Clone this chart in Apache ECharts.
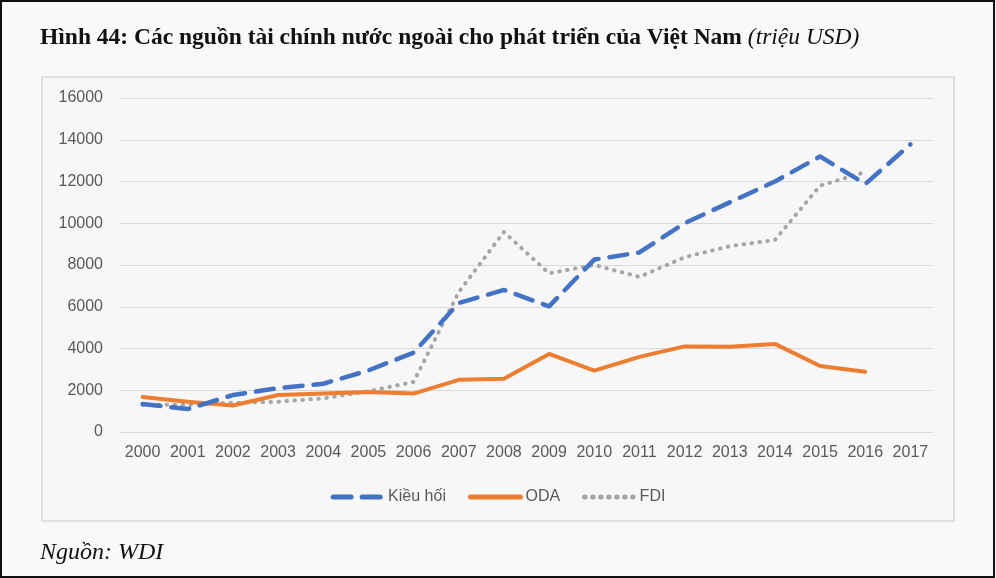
<!DOCTYPE html>
<html>
<head>
<meta charset="utf-8">
<script src="https://cdn.jsdelivr.net/npm/echarts@6/dist/echarts.min.js"></script>
<style>
html,body{margin:0;padding:0;background:#f9f9f9;}
#c{width:996px;height:578px;}
</style>
</head>
<body>
<div id="c"></div>
<script>
var years = ['2000','2001','2002','2003','2004','2005','2006','2007','2008','2009','2010','2011','2012','2013','2014','2015','2016','2017'];
var kieuHoi = [1340, 1100, 1770, 2100, 2310, 2950, 3800, 6180, 6805, 6020, 8260, 8600, 10000, 11000, 12000, 13200, 11880, 13781];
var oda = [1680, 1450, 1270, 1770, 1850, 1920, 1840, 2500, 2550, 3740, 2940, 3600, 4100, 4080, 4220, 3160, 2890, null];
var fdi = [1300, 1300, 1400, 1450, 1610, 1950, 2400, 6700, 9580, 7600, 8000, 7430, 8370, 8900, 9200, 11800, 12450, null];
var seriesNames = ['Kiều hối', 'ODA', 'FDI'];
var yTicks = {min: 0, max: 16000, interval: 2000};

var chart = echarts.init(document.getElementById('c'), null, {renderer: 'canvas'});
var axisFont = '"Liberation Sans", Arial, sans-serif';
var serif = '"Liberation Serif", "Times New Roman", serif';
chart.setOption({
  backgroundColor: '#f9f9f9',
  animation: false,
  title: {
    left: 40, top: 26, padding: 0,
    text: '{b|Hình 44: Các nguồn tài chính nước ngoài cho phát triển của Việt Nam }{i|(triệu USD)}',
    textStyle: {
      rich: {
        b: {fontFamily: serif, fontWeight: 'bold', fontSize: 23.5, color: '#111'},
        i: {fontFamily: serif, fontStyle: 'italic', fontWeight: 'normal', fontSize: 23.5, color: '#111'}
      }
    }
  },
  graphic: [
    {type: 'rect', z: -10, shape: {x: 42, y: 77, width: 912, height: 444},
     style: {fill: '#f7f7f7', stroke: '#d9d9d9', lineWidth: 1.5}},
    {type: 'rect', z: 100, silent: true, shape: {x: 1, y: 1, width: 993, height: 576},
     style: {fill: null, stroke: '#111', lineWidth: 2}},
    {type: 'text', left: 40, top: 541,
     style: {text: 'Nguồn: WDI', font: 'italic 24px "Liberation Serif", "Times New Roman", serif', fill: '#111'}}
  ],
  legend: {
    data: seriesNames,
    left: 'center', top: 484,
    itemWidth: 50, itemHeight: 14, itemGap: 22,
    itemStyle: {opacity: 0},
    lineStyle: {width: 5, cap: 'round'},
    textStyle: {fontFamily: axisFont, fontSize: 16, color: '#595959'}
  },
  grid: {left: 120, right: 63, top: 98, bottom: 146, containLabel: false},
  xAxis: {
    type: 'category', data: years, boundaryGap: true,
    axisLine: {show: false}, axisTick: {show: false},
    axisLabel: {fontFamily: axisFont, fontSize: 16, color: '#595959', margin: 13, interval: 0}
  },
  yAxis: {
    type: 'value', min: yTicks.min, max: yTicks.max, interval: yTicks.interval,
    axisLine: {show: false}, axisTick: {show: false},
    axisLabel: {fontFamily: axisFont, fontSize: 16, color: '#595959', margin: 17,
      formatter: function (v) { return String(v); }},
    splitLine: {lineStyle: {color: '#d9d9d9', width: 1}}
  },
  series: [
    {name: seriesNames[0], type: 'line', data: kieuHoi, showSymbol: false, symbol: 'none',
     itemStyle: {color: '#4472c4'},
     lineStyle: {color: '#4472c4', width: 4.5, type: [18, 11], cap: 'round', join: 'round'}, z: 3},
    {name: seriesNames[1], type: 'line', data: oda, showSymbol: false, symbol: 'none',
     itemStyle: {color: '#ed7d31'},
     lineStyle: {color: '#ed7d31', width: 4, cap: 'round', join: 'round'}, z: 2},
    {name: seriesNames[2], type: 'line', data: fdi, showSymbol: false, symbol: 'none',
     itemStyle: {color: '#a5a5a5'},
     lineStyle: {color: '#a5a5a5', width: 4, type: [0.5, 7.5], cap: 'round', join: 'round'}, z: 1}
  ]
});
</script>
</body>
</html>
